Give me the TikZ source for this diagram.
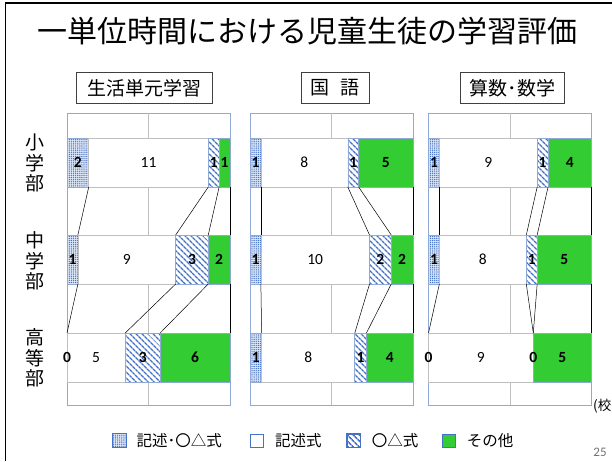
\documentclass[tikz,border=0pt]{standalone}
\usepackage{fontspec}
\setmainfont{Carlito}
\newfontfamily\jpf{Noto Sans CJK JP}
\usetikzlibrary{patterns,patterns.meta}
\definecolor{sgreen}{RGB}{51,204,51}
\definecolor{pblue}{RGB}{68,114,196}
\definecolor{frameblue}{RGB}{143,170,215}
\definecolor{gridgray}{RGB}{191,191,191}
\tikzset{
  dotfill/.style={fill=pblue!18},
  dotpat/.style={pattern={Dots[radius=0.7pt,distance=2.1pt]},pattern color=pblue},
  hatchpat/.style={pattern={Lines[angle=-45,distance=4pt,line width=1.5pt]},pattern color=pblue},
  segedge/.style={draw=frameblue,line width=0.6pt},
  whiteedge/.style={draw=gridgray,line width=0.6pt},
  greenseg/.style={fill=sgreen,draw=frameblue,line width=0.6pt},
  plotframe/.style={draw=frameblue,line width=0.8pt,fill=white},
  midgrid/.style={draw=gridgray,line width=0.8pt},
  serline/.style={draw=black,line width=0.5pt},
  vlab/.style={font=\fontsize{15.5}{15.5}\selectfont,inner sep=0pt},
  vlabb/.style={font=\bfseries\fontsize{15.5}{15.5}\selectfont,inner sep=0pt},
  subtitle/.style={draw=black!75,line width=0.7pt,font=\jpf\fontsize{19}{19}\selectfont,inner sep=0pt,minimum height=31pt},
  rowlab/.style={font=\jpf\fontsize{19}{20.5}\selectfont,align=center,inner sep=0pt},
  legtext/.style={font=\jpf\fontsize{15.5}{16}\selectfont,anchor=west,inner sep=0pt},
  legbox/.style={minimum width=13pt,minimum height=13pt,inner sep=0pt,draw=pblue,line width=0.6pt}
}
% #1 x0, #2 ytop, #3-#6 values, #7 id
\newcommand\chartrow[7]{%
  \pgfmathsetmacro\cTot{#3+#4+#5+#6}%
  \pgfmathsetmacro\cA{#1+163*#3/\cTot}%
  \pgfmathsetmacro\cB{\cA+163*#4/\cTot}%
  \pgfmathsetmacro\cC{\cB+163*#5/\cTot}%
  \pgfmathsetmacro\cD{#1+163}%
  \pgfmathsetmacro\cBot{#2+49}%
  \pgfmathsetmacro\cMid{#2+24.5}%
  \fill[dotfill] (#1,#2) rectangle (\cA,\cBot);
  \fill[dotpat] (#1,#2) rectangle (\cA,\cBot);
  \draw[segedge] (#1,#2) rectangle (\cA,\cBot);
  \fill[white] (\cA,#2) rectangle (\cB,\cBot);
  \draw[whiteedge] (\cA,#2) rectangle (\cB,\cBot);
  \fill[white] (\cB,#2) rectangle (\cC,\cBot);
  \fill[hatchpat] (\cB,#2) rectangle (\cC,\cBot);
  \draw[segedge] (\cB,#2) rectangle (\cC,\cBot);
  \draw[greenseg] (\cC,#2) rectangle (\cD,\cBot);
  \node[vlabb] (#7n1) at ({(#1+\cA)/2},\cMid) {#3};
  \node[vlab] (#7n2) at ({(\cA+\cB)/2},\cMid) {#4};
  \node[vlabb] (#7n3) at ({(\cB+\cC)/2},\cMid) {#5};
  \node[vlabb] (#7n4) at ({(\cC+\cD)/2},\cMid) {#6};
  \coordinate (#7t1) at (\cA,#2); \coordinate (#7b1) at (\cA,\cBot);
  \coordinate (#7t2) at (\cB,#2); \coordinate (#7b2) at (\cB,\cBot);
  \coordinate (#7t3) at (\cC,#2); \coordinate (#7b3) at (\cC,\cBot);
  \coordinate (#7t4) at (\cD,#2); \coordinate (#7b4) at (\cD,\cBot);
}
\begin{document}
\begin{tikzpicture}[x=1pt,y=-1pt]
\useasboundingbox (0,0) rectangle (612,461);
\fill[white] (0,0) rectangle (612,461);
% slide frame
\draw[line width=1.6pt] (5.5,461) -- (5.5,3) -- (612,3);
% title
\node[font=\jpf\fontsize{30}{30}\selectfont,inner sep=0pt] (title) at (307.5,31) {一単位時間における児童生徒の学習評価};
% sub titles
\node[subtitle,minimum width=136pt] (stA) at (144.7,87.8) {生活単元学習};
\node[subtitle,minimum width=68pt] (stB) at (335,87.8) {国\hspace{0.6em}語};
\node[subtitle,minimum width=104pt] (stC) at (512.5,87.8) {算数･数学};
% row labels
\node[rowlab] (rl1) at (35,163) {小\\学\\部};
\node[rowlab] (rl2) at (35,261) {中\\学\\部};
\node[rowlab] (rl3) at (35,358) {高\\等\\部};
% plot areas
\foreach \x/\c in {67/A,250/B,428.5/C}{
  \draw[plotframe] (\x,113) rectangle (\x+163,405);
  \draw[midgrid] (\x+81.5,113) -- (\x+81.5,405);
}
\chartrow{67}{138}{2}{11}{1}{1}{Ar1}
\chartrow{67}{235}{1}{9}{3}{2}{Ar2}
\chartrow{67}{333}{0}{5}{3}{6}{Ar3}
\chartrow{250}{138}{1}{8}{1}{5}{Br1}
\chartrow{250}{235}{1}{10}{2}{2}{Br2}
\chartrow{250}{333}{1}{8}{1}{4}{Br3}
\chartrow{428.5}{138}{1}{9}{1}{4}{Cr1}
\chartrow{428.5}{235}{1}{8}{1}{5}{Cr2}
\chartrow{428.5}{333}{0}{9}{0}{5}{Cr3}
% series lines
\foreach \c in {A,B,C}{
  \foreach \k in {1,2,3,4}{
    \draw[serline] (\c r1b\k) -- (\c r2t\k);
    \draw[serline] (\c r2b\k) -- (\c r3t\k);
  }
}
% footnote
\node[font=\jpf\fontsize{13.5}{13.5}\selectfont,anchor=west,inner sep=0pt] (note) at (593,406) {(校)};
% legend
\node[legbox] (lg1) at (119,440.5) {};
\fill[dotfill] (lg1.south west) rectangle (lg1.north east);
\fill[dotpat] (lg1.south west) rectangle (lg1.north east);
\draw[draw=pblue,line width=0.6pt] (lg1.south west) rectangle (lg1.north east);
\node[legtext] (lt1) at (136.5,440.5) {記述･〇△式};
\node[legbox] (lg2) at (256.3,440.5) {};
\node[legtext] (lt2) at (275,440.5) {記述式};
\node[legbox] (lg3) at (353.3,440.5) {};
\fill[hatchpat] (lg3.south west) rectangle (lg3.north east);
\draw[draw=pblue,line width=0.6pt] (lg3.south west) rectangle (lg3.north east);
\node[legtext] (lt3) at (371.7,440.5) {〇△式};
\node[legbox,fill=sgreen] (lg4) at (449,440.5) {};
\node[legtext] (lt4) at (466.7,440.5) {その他};
% page number
\node[font=\fontsize{13}{13}\selectfont,text=black!55,inner sep=0pt] (pg) at (600,452) {25};
\end{tikzpicture}
\end{document}
